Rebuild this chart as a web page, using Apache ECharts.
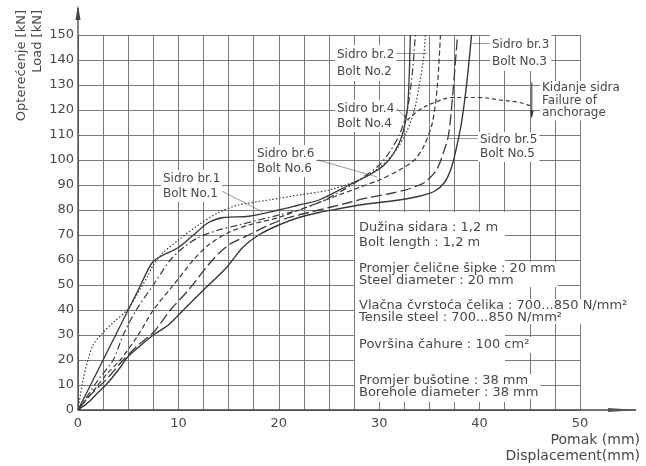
<!DOCTYPE html>
<html><head><meta charset="utf-8">
<script src="https://cdn.jsdelivr.net/npm/echarts@6/dist/echarts.min.js"></script>
<style>html,body{margin:0;padding:0;background:#fff}#c{width:646px;height:466px}</style>
</head><body><div id="c"></div>
<script>
// ---- data (displacement mm, load kN) ----
const xTickLabels = [0, 10, 20, 30, 40, 50];
const yTicks = [0, 10, 20, 30, 40, 50, 60, 70, 80, 90, 100, 110, 120, 130, 140, 150];

// Bolt No.1 (solid)
const disp1 = [0, 1, 2.5, 4, 5, 6, 7.4, 8.5, 10, 11.5, 13, 14.5, 17, 20, 22, 24, 27, 29, 30.5, 31.5, 32.3, 32.8, 33, 33.1];
const load1 = [0, 8, 20, 32, 40, 48, 59, 62, 65, 70, 75, 77, 77.5, 80, 82, 84, 90, 94, 98, 103, 110, 120, 135, 150];
// Bolt No.2 (dotted)
const disp2 = [0, 0.5, 1, 1.5, 2.5, 3.5, 4.9, 6, 7, 7.5, 8.5, 10, 12, 14, 16, 19, 22, 25, 28, 30, 31.5, 32.7, 33.5, 34, 34.4, 34.6];
const load2 = [0, 12, 20, 26, 31, 35, 40, 47, 54, 58, 63, 68, 74, 79, 82, 84, 86, 88, 92, 97, 103, 111, 120, 130, 140, 150];
// Bolt No.3 (solid)
const disp3 = [0, 1, 2, 3, 4.2, 4.9, 6, 7.5, 9, 10.5, 12.5, 14.8, 16.4, 18, 20, 22, 24, 26, 28, 30, 32, 34, 35.5, 36.5, 37.2, 37.7, 38.2, 38.7, 39.2];
const load3 = [0, 3, 7, 11, 17, 21, 25, 30, 34, 40, 48, 57, 65, 70, 74, 77, 79, 80.5, 82, 83, 84, 85.5, 87.5, 91, 97, 105, 115, 130, 150];
// Bolt No.4 (dash-dot)
const disp4 = [0, 1, 2, 3.5, 4.5, 5.8, 7.5, 9.2, 10.5, 12, 14, 16, 18, 20, 22, 24, 26, 28, 30, 31, 32, 32.8, 33.3, 33.6];
const load4 = [0, 6, 12, 20, 30, 40, 50, 60, 65, 69, 72, 74, 76, 78, 80, 83, 87, 92, 98, 103, 110, 120, 135, 150];
// Bolt No.5 (long dash)
const disp5 = [0, 1, 2, 3, 4.5, 6, 7.5, 9.2, 11, 13.4, 15, 17, 19, 21, 23, 25, 27, 29, 31, 33, 34.5, 35.7, 36.4, 36.9, 37.3, 37.8];
const load5 = [0, 5, 9, 13, 20, 26, 31, 40, 48, 60, 66, 70, 74, 77, 79, 81, 83, 85, 86.5, 88.5, 91, 96, 103, 110, 125, 150];
// Bolt No.6 (dashed)
const disp6 = [0, 1, 2, 3, 4.2, 6, 7.5, 9.5, 11.5, 13, 15, 17, 20, 22, 24, 26, 28, 30, 32, 33.5, 34.5, 35.3, 35.8, 36.1];
const load6 = [0, 5, 10, 15, 20, 30, 40, 50, 60, 66, 71, 74, 77, 80, 83, 86, 89, 92, 96, 100, 106, 115, 130, 150];
// Failure of anchorage (dashed envelope)
const dispFail = [32.8, 34, 35.5, 37.4, 40, 42, 44, 45.2];
const loadFail = [116, 120, 123, 125, 125, 124, 123, 121.5];

const boltNames = ['Bolt No.1', 'Bolt No.2', 'Bolt No.3', 'Bolt No.4', 'Bolt No.5', 'Bolt No.6'];

// leader lines [x1,y1,x2,y2] in data units
const leaders = [
  [14.1, 88, 18.4, 79.2],
  [31.6, 142.8, 34.8, 142.8],
  [41.0, 146.8, 39.3, 146.8],
  [31.7, 120.8, 33.0, 115.6],
  [39.8, 108.8, 36.9, 108.8],
  [23.9, 100, 29.8, 93.2]
];

const FONT = '"DejaVu Sans", sans-serif';
const INK = '#383838';
const TXT = '#484848';
const GRIDC = '#7a7a7a';

function pts(xs, ys) { return xs.map((x, i) => [x, ys[i]]); }

const styles = [
  { type: 'solid', width: 1.3 },
  { type: [1.5, 2], width: 1.2 },
  { type: 'solid', width: 1.4 },
  { type: [7, 3, 1.5, 3], width: 1.2 },
  { type: [11, 4], width: 1.3 },
  { type: [5, 3], width: 1.2 }
];
const series = [
  [disp1, load1], [disp2, load2], [disp3, load3], [disp4, load4], [disp5, load5], [disp6, load6]
].map((d, i) => ({
  name: boltNames[i], type: 'line', data: pts(d[0], d[1]), showSymbol: false, smooth: 0.3,
  lineStyle: { color: INK, width: styles[i].width, type: styles[i].type }, z: 3, silent: true
}));
series.push({
  name: 'Failure of anchorage', type: 'line', data: pts(dispFail, loadFail), showSymbol: false, smooth: 0.4,
  lineStyle: { color: INK, width: 1.2, type: [4, 3] }, z: 3, silent: true
});
series.push({
  name: 'leaders', type: 'lines', coordinateSystem: 'cartesian2d', silent: true, z: 3,
  lineStyle: { color: INK, width: 1 },
  data: leaders.map(l => ({ coords: [[l[0], l[1]], [l[2], l[3]]] }))
});

const chart = echarts.init(document.getElementById('c'));
chart.setOption({
  animation: false,
  backgroundColor: '#fff',
  grid: { left: 78, right: 66, top: 35, bottom: 56 },
  xAxis: {
    type: 'value', min: 0, max: 50, interval: 2.5,
    axisLine: { show: false }, axisTick: { show: false },
    axisLabel: { formatter: v => xTickLabels.includes(v) ? String(v) : '', color: TXT, fontSize: 13, margin: 7, fontFamily: FONT },
    splitLine: { show: true, lineStyle: { color: GRIDC, width: 1 } }
  },
  yAxis: {
    type: 'value', min: yTicks[0], max: yTicks[yTicks.length - 1], interval: 10,
    axisLine: { show: false }, axisTick: { show: false },
    axisLabel: { color: TXT, fontSize: 13, margin: 4, fontFamily: FONT },
    splitLine: { show: true, lineStyle: { color: GRIDC, width: 1 } }
  },
  series: series
});

const o = chart.convertToPixel({ gridIndex: 0 }, [0, 0]);
const x0 = o[0], y0 = o[1];
const fA = chart.convertToPixel({ gridIndex: 0 }, [45.2, 131]);
const fB = chart.convertToPixel({ gridIndex: 0 }, [45.2, 117]);

function label(x, y, text, lh, size) {
  return {
    type: 'text', x: x, y: y, z: 10,
    style: { text: text, font: (size || 12) + 'px ' + FONT, fill: TXT, lineHeight: lh || 15, backgroundColor: '#fff', padding: [1, 2], verticalAlign: 'top' }
  };
}

chart.setOption({
  graphic: [
    { type: 'rect', z: 6, shape: { x: 355, y: 212, width: 150, height: 190 }, style: { fill: '#fff' } },
    { type: 'line', z: 8, shape: { x1: x0, y1: y0, x2: x0, y2: 8 }, style: { stroke: '#444', lineWidth: 1.3 } },
    { type: 'polygon', z: 8, shape: { points: [[x0 - 2.5, 20], [x0, 5], [x0 + 2.5, 20]] }, style: { fill: '#444' } },
    { type: 'line', z: 8, shape: { x1: x0, y1: y0, x2: 636, y2: y0 }, style: { stroke: '#444', lineWidth: 1.3 } },
    { type: 'polygon', z: 8, shape: { points: [[608, y0 - 2], [638, y0], [608, y0 + 2]] }, style: { fill: '#555' } },
    { type: 'line', z: 8, shape: { x1: fA[0], y1: fA[1], x2: fB[0], y2: fB[1] }, style: { stroke: INK, lineWidth: 1 } },
    { type: 'polygon', z: 8, shape: { points: [[fB[0] - 2, fB[1] - 7], [fB[0], fB[1]], [fB[0] + 2, fB[1] - 7]] }, style: { fill: INK } },
    { type: 'text', z: 10, x: 22, y: 10, rotation: Math.PI / 2, style: { text: 'Opterećenje [kN]', font: '13px ' + FONT, fill: TXT, align: 'right', verticalAlign: 'middle' } },
    { type: 'text', z: 10, x: 38, y: 10, rotation: Math.PI / 2, style: { text: 'Load [kN]', font: '13px ' + FONT, fill: TXT, align: 'right', verticalAlign: 'middle' } },
    { type: 'text', z: 10, x: 640, y: 440, style: { text: 'Pomak (mm)', font: '14px ' + FONT, fill: TXT, align: 'right', verticalAlign: 'middle' } },
    { type: 'text', z: 10, x: 640, y: 456, style: { text: 'Displacement(mm)', font: '14px ' + FONT, fill: TXT, align: 'right', verticalAlign: 'middle' } },
    label(161, 170, 'Sidro br.1\nBolt No.1'),
    label(255, 145, 'Sidro br.6\nBolt No.6'),
    label(335, 45, 'Sidro br.2\nBolt No.2', 17),
    label(335, 100, 'Sidro br.4\nBolt No.4', 15),
    label(490, 35, 'Sidro br.3\nBolt No.3', 17),
    label(478, 132, 'Sidro br.5\nBolt No.5', 14),
    label(540, 81, 'Kidanje sidra\nFailure of\nanchorage', 12.5),
    label(357, 219, 'Dužina sidara : 1,2 m\nBolt length : 1,2 m', 15, 13),
    label(357, 262, 'Promjer čelične šipke : 20 mm\nSteel diameter : 20 mm', 11.5, 13),
    label(357, 299, 'Vlačna čvrstoća čelika : 700...850 N/mm²\nTensile steel : 700...850 N/mm²', 11.5, 13),
    label(357, 337, 'Površina čahure : 100 cm²', 14, 13),
    label(357, 374, 'Promjer bušotine : 38 mm\nBorehole diameter : 38 mm', 11.5, 13)
  ]
});
</script>
</body></html>
